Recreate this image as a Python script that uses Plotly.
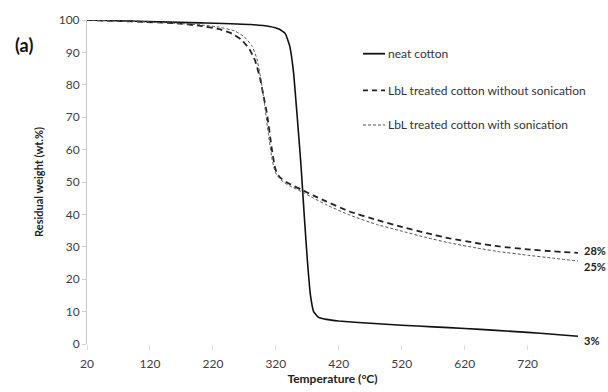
import plotly.graph_objects as go

# Temperature (°C) and residual weight (wt.%)
neat_T = [20, 100, 200, 280, 310, 325, 335, 342, 348, 354, 360, 365, 370, 375, 380, 388, 400, 420, 470, 520, 570, 620, 670, 720, 760, 800]
neat_W = [100, 99.6, 99.1, 98.6, 98.0, 97.2, 95.8, 92, 84, 70, 55, 40, 26, 15, 10, 8.2, 7.6, 7.1, 6.4, 5.8, 5.3, 4.8, 4.2, 3.6, 3.0, 2.4]

nosonic_T = [20, 100, 160, 200, 230, 250, 265, 278, 287, 295, 300, 306, 313, 318, 322, 330, 340, 361, 380, 400, 437, 480, 517, 560, 596, 640, 675, 720, 760, 800]
nosonic_W = [100, 99.5, 99, 98.2, 97.2, 95.8, 94, 91, 87.5, 82, 77, 71, 61, 55, 52.5, 50.8, 49.6, 47.6, 45.8, 44, 40.9, 38.3, 36.3, 34.2, 32.6, 31.1, 30.1, 29.2, 28.6, 28.1]

sonic_T = [20, 100, 160, 200, 230, 255, 270, 282, 290, 296, 302, 308, 314, 319, 324, 332, 342, 361, 380, 400, 437, 480, 517, 560, 596, 640, 675, 720, 760, 800]
sonic_W = [100, 99.5, 99, 98.5, 97.8, 96.6, 94.8, 92, 88, 82, 74, 65, 57, 53, 51.5, 50, 48.8, 47.0, 45.0, 43.0, 39.8, 36.9, 35.0, 32.8, 31.2, 29.6, 28.5, 27.4, 26.5, 25.6]

end_labels = ["28%", "25%", "3%"]
end_label_y = [28.9, 23.8, 1.0]

legend_names = ["neat cotton", "LbL treated cotton without sonication", "LbL treated cotton with sonication"]

FONT = "Lato, 'Open Sans', sans-serif"

fig = go.Figure()
fig.add_trace(go.Scatter(x=neat_T, y=neat_W, mode="lines", line=dict(color="#111111", width=1.6, shape="spline", smoothing=0.4), name=legend_names[0], showlegend=False))
fig.add_trace(go.Scatter(x=nosonic_T, y=nosonic_W, mode="lines", line=dict(color="#222222", width=1.8, dash="6px,4px", shape="spline", smoothing=0.4), name=legend_names[1], showlegend=False))
fig.add_trace(go.Scatter(x=sonic_T, y=sonic_W, mode="lines", line=dict(color="#555555", width=1.0, dash="3px,2px", shape="spline", smoothing=0.4), name=legend_names[2], showlegend=False))

# custom legend (keys + labels) in paper coordinates
leg_y = [0.896, 0.783, 0.676]
leg_dash = ["solid", "5px,4px", "3px,2px"]
leg_w = [1.8, 1.8, 1.0]
leg_col = ["#111111", "#222222", "#555555"]
x0p, x1p = (363 - 87) / 491, (385 - 87) / 491
shapes = []
annotations = []
for i in range(3):
    shapes.append(dict(type="line", xref="paper", yref="paper", x0=x0p, x1=x1p, y0=leg_y[i], y1=leg_y[i],
                       line=dict(color=leg_col[i], width=leg_w[i], dash=leg_dash[i])))
    annotations.append(dict(xref="paper", yref="paper", x=x1p + 0.002, y=leg_y[i], xanchor="left", yanchor="middle",
                            text=legend_names[i], showarrow=False, font=dict(family=FONT, size=12, color="#333333")))

for lab, yy in zip(end_labels, end_label_y):
    annotations.append(dict(x=1.008, y=yy, xref="paper", yref="y", xanchor="left", yanchor="middle", text="<b>" + lab + "</b>",
                            showarrow=False, font=dict(family=FONT, size=11, color="#222222")))

annotations.append(dict(xref="paper", yref="paper", x=-0.128, y=0.923, xanchor="center", yanchor="middle",
                        text="<b>(a)</b>", showarrow=False, font=dict(family=FONT, size=18, color="#111111")))

fig.update_layout(
    width=608, height=392,
    margin=dict(l=87, r=30, t=18, b=38),
    paper_bgcolor="white", plot_bgcolor="white",
    showlegend=False,
    shapes=shapes, annotations=annotations,
    font=dict(family=FONT, size=12, color="#404040"),
)
fig.update_xaxes(range=[20, 800], tick0=20, dtick=100, showgrid=False, zeroline=False, showline=False,
                 ticks="outside", ticklen=5, tickcolor="#dddddd", ticklabelstandoff=4,
                 tickfont=dict(size=12, color="#404040"),
                 title=dict(text="<b>Temperature (°C)</b>", font=dict(size=12, color="#222222"), standoff=0))
fig.update_yaxes(range=[0, 100], dtick=10, showgrid=False, zeroline=False, showline=True, linecolor="#c8c8c8", linewidth=1,
                 ticks="outside", ticklen=4, tickcolor="#d0d0d0", tickfont=dict(size=12, color="#404040"),
                 title=dict(text="<b>Residual weight (wt.%)</b>", font=dict(size=11, color="#222222"), standoff=12))

fig.write_html("out.html", config={"displayModeBar": False},
               post_script="document.body.style.margin='0';document.body.style.overflow='hidden';")
